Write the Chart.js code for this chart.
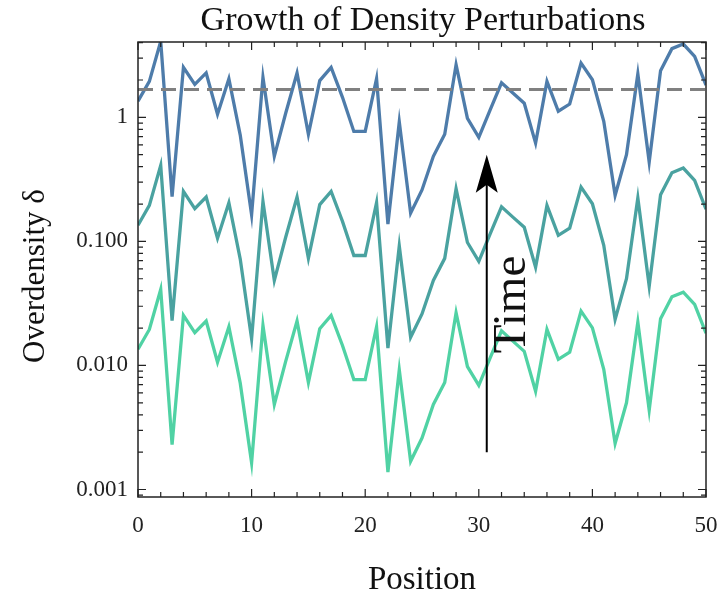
<!DOCTYPE html>
<html>
<head>
<meta charset="utf-8">
<script src="https://cdn.jsdelivr.net/npm/chart.js@4"></script>
<style>
  html, body { margin: 0; padding: 0; background: #fff; }
  #wrap { width: 721px; height: 598px; position: relative; }
</style>
</head>
<body>
<div id="wrap"><canvas id="growth-chart" width="721" height="598"></canvas></div>
<script>
// grid positions along the box
const positions = [0, 1, 2, 3, 4, 5, 6, 7, 8, 9, 10, 11, 12, 13, 14, 15, 16, 17, 18, 19, 20,
    21, 22, 23, 24, 25, 26, 27, 28, 29, 30, 31, 32, 33, 34, 35, 36, 37, 38, 39, 40,
    41, 42, 43, 44, 45, 46, 47, 48, 49, 50];

// overdensity at three snapshots (earliest -> latest)
const deltaEarly = [0.0135, 0.0195, 0.041, 0.0023, 0.0253, 0.0184, 0.0228, 0.0106, 0.0205, 0.0072,
    0.00164, 0.021, 0.00485, 0.0108, 0.0228, 0.0073, 0.0198, 0.0253, 0.0145, 0.0077,
    0.0077, 0.0205, 0.00138, 0.0092, 0.00169, 0.0026, 0.00485, 0.0073, 0.0266, 0.0098,
    0.0069, 0.0115, 0.019, 0.0157, 0.013, 0.0062, 0.0195, 0.0112, 0.0128, 0.0274,
    0.0201, 0.0093, 0.00235, 0.0050, 0.0224, 0.00436, 0.0238, 0.0358, 0.039, 0.031, 0.0182];
const deltaMid = [0.135, 0.195, 0.41, 0.023, 0.253, 0.184, 0.228, 0.106, 0.205, 0.072,
    0.0164, 0.21, 0.0485, 0.108, 0.228, 0.073, 0.198, 0.253, 0.145, 0.077,
    0.077, 0.205, 0.0138, 0.092, 0.0169, 0.026, 0.0485, 0.073, 0.266, 0.098,
    0.069, 0.115, 0.19, 0.157, 0.13, 0.062, 0.195, 0.112, 0.128, 0.274,
    0.201, 0.093, 0.0235, 0.050, 0.224, 0.0436, 0.238, 0.358, 0.39, 0.31, 0.182];
const deltaLate = [1.35, 1.95, 4.1, 0.23, 2.53, 1.84, 2.28, 1.06, 2.05, 0.72,
    0.164, 2.1, 0.485, 1.08, 2.28, 0.73, 1.98, 2.53, 1.45, 0.77,
    0.77, 2.05, 0.138, 0.92, 0.169, 0.26, 0.485, 0.73, 2.66, 0.98,
    0.69, 1.15, 1.9, 1.57, 1.3, 0.62, 1.95, 1.12, 1.28, 2.74,
    2.01, 0.93, 0.235, 0.50, 2.24, 0.436, 2.38, 3.58, 3.9, 3.1, 1.82];

const thresholdX = [0, 50];
const thresholdY = [1.68, 1.68];

const yTickValues = [0.001, 0.01, 0.1, 1];
const yTickLabels = ['0.001', '0.010', '0.100', '1'];

const serif = "'Liberation Serif', 'DejaVu Serif', serif";

function toPoints(xs, ys) {
    return xs.map((x, i) => ({ x: x, y: ys[i] }));
}

// frame, inward ticks, titles and the time arrow
const decorPlugin = {
    id: 'decor',
    afterDraw(chart) {
        const ctx = chart.ctx;
        const a = chart.chartArea;
        const xs = chart.scales.x;
        const ys = chart.scales.y;
        ctx.save();
        ctx.strokeStyle = '#222';
        ctx.lineWidth = 1.5;
        ctx.strokeRect(a.left, a.top, a.right - a.left, a.bottom - a.top);

        ctx.lineWidth = 1.2;
        ctx.beginPath();
        for (let v = 0; v <= 50; v += 2) {
            const px = xs.getPixelForValue(v);
            const len = v % 10 === 0 ? 8 : 5;
            ctx.moveTo(px, a.bottom); ctx.lineTo(px, a.bottom - len);
            ctx.moveTo(px, a.top); ctx.lineTo(px, a.top + len);
        }
        for (let d = 0.0001; d <= 10; d *= 10) {
            for (let k = 1; k <= 9; k++) {
                const v = d * k;
                if (v < ys.min || v > ys.max) continue;
                const py = ys.getPixelForValue(v);
                const len = k === 1 ? 8 : 5;
                ctx.moveTo(a.left, py); ctx.lineTo(a.left + len, py);
                ctx.moveTo(a.right, py); ctx.lineTo(a.right - len, py);
            }
        }
        ctx.stroke();

        // time arrow
        const ax = xs.getPixelForValue(30.7);
        const y0 = ys.getPixelForValue(0.002);
        const y1 = ys.getPixelForValue(0.5);
        ctx.strokeStyle = '#000';
        ctx.fillStyle = '#000';
        ctx.lineWidth = 2;
        ctx.beginPath();
        ctx.moveTo(ax, y0); ctx.lineTo(ax, y1 + 20);
        ctx.stroke();
        ctx.beginPath();
        ctx.moveTo(ax, y1);
        ctx.lineTo(ax - 11, y1 + 38);
        ctx.lineTo(ax, y1 + 30);
        ctx.lineTo(ax + 11, y1 + 38);
        ctx.closePath();
        ctx.fill();

        ctx.fillStyle = '#111';
        ctx.textAlign = 'center';
        ctx.textBaseline = 'middle';
        ctx.save();
        ctx.translate(xs.getPixelForValue(33.0), ys.getPixelForValue(0.031));
        ctx.rotate(-Math.PI / 2);
        ctx.font = '47px ' + serif;
        ctx.fillText('Time', 0, 0);
        ctx.restore();

        ctx.font = '34px ' + serif;
        ctx.fillText('Growth of Density Perturbations', 423, 21);
        ctx.font = '33px ' + serif;
        ctx.fillText('Position', 422, 580);
        ctx.font = '31px ' + serif;
        ctx.save();
        ctx.translate(36, 276);
        ctx.rotate(-Math.PI / 2);
        ctx.fillText('Overdensity \u03B4', 0, 0);
        ctx.restore();
        ctx.restore();
    }
};

const ctx = document.getElementById('growth-chart').getContext('2d');
new Chart(ctx, {
    type: 'line',
    data: {
        datasets: [
            {
                data: toPoints(thresholdX, thresholdY),
                borderColor: '#808080',
                borderWidth: 3,
                borderDash: [15, 8],
                pointRadius: 0
            },
            {
                data: toPoints(positions, deltaLate),
                borderColor: 'rgb(78, 124, 170)',
                borderWidth: 3.3,
                pointRadius: 0
            },
            {
                data: toPoints(positions, deltaMid),
                borderColor: 'rgb(74, 162, 160)',
                borderWidth: 3.3,
                pointRadius: 0
            },
            {
                data: toPoints(positions, deltaEarly),
                borderColor: 'rgb(80, 210, 164)',
                borderWidth: 3.3,
                pointRadius: 0
            }
        ]
    },
    options: {
        responsive: false,
        animation: false,
        layout: { padding: { left: 0, right: 15, top: 42, bottom: 0 } },
        plugins: {
            legend: { display: false },
            tooltip: { enabled: false }
        },
        scales: {
            x: {
                type: 'linear',
                min: 0,
                max: 50,
                grid: { display: false, drawTicks: false },
                border: { display: false },
                ticks: {
                    stepSize: 10,
                    padding: 15,
                    color: '#222',
                    maxRotation: 0,
                    font: { family: serif, size: 23 }
                },
                afterFit: s => {
                    s.height = 101;
                    s.paddingLeft = 0;
                    s.paddingRight = 0;
                }
            },
            y: {
                type: 'logarithmic',
                min: 0.00087,
                max: 4.05,
                grid: { display: false, drawTicks: false },
                border: { display: false },
                afterBuildTicks: s => { s.ticks = yTickValues.map(v => ({ value: v })); },
                ticks: {
                    padding: 10,
                    color: '#222',
                    font: { family: serif, size: 23 },
                    callback: v => {
                        const i = yTickValues.findIndex(t => Math.abs(t - v) / t < 1e-6);
                        return i >= 0 ? yTickLabels[i] : '';
                    }
                },
                afterFit: s => {
                    s.width = 138;
                    s.paddingTop = 0;
                    s.paddingBottom = 0;
                }
            }
        }
    },
    plugins: [decorPlugin]
});
</script>
</body>
</html>
